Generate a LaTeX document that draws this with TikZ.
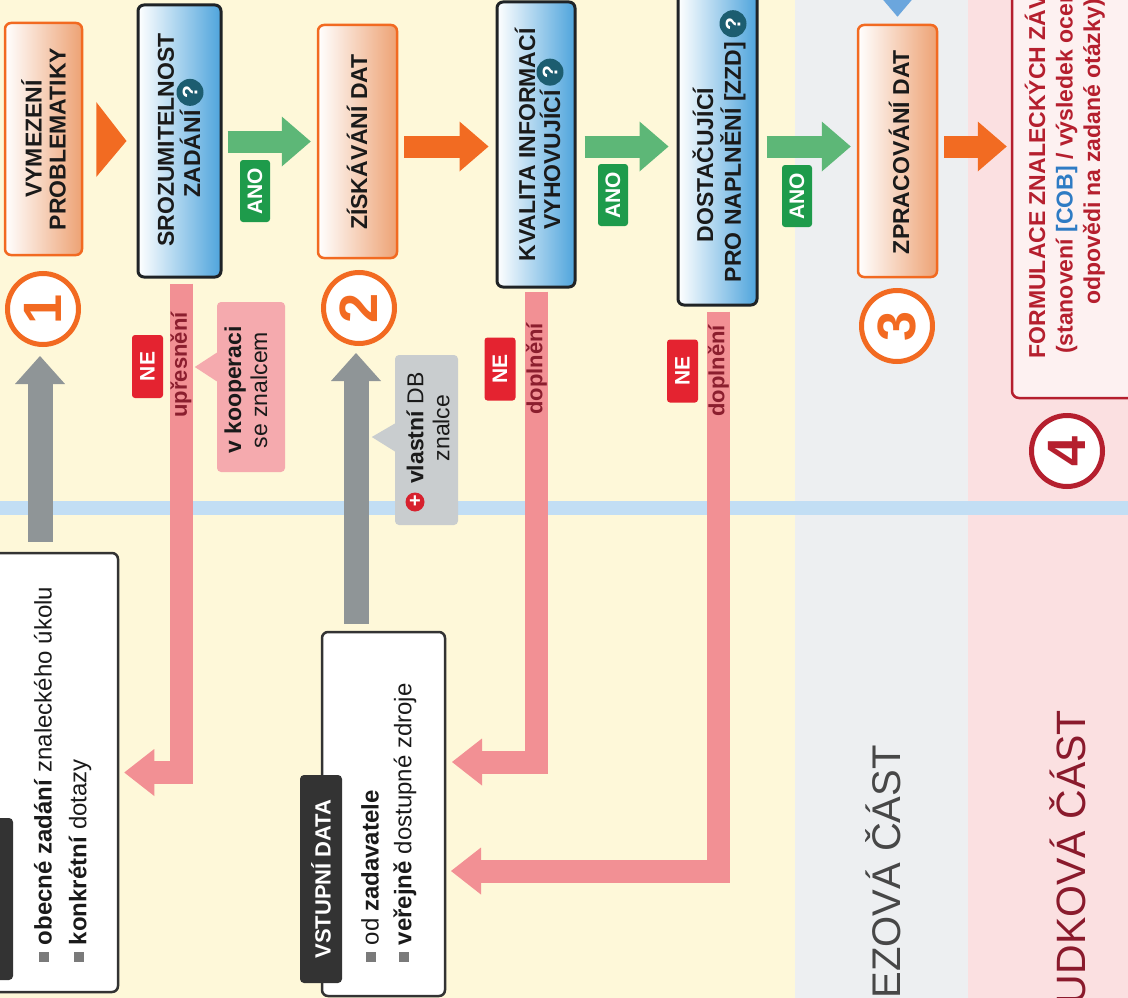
\documentclass[tikz,border=0pt]{standalone}
\usepackage{fontspec}
\setmainfont{Liberation Sans}
\usetikzlibrary{arrows.meta,calc}

\definecolor{cream}{HTML}{FEF8D9}
\definecolor{greyreg}{HTML}{EDEFF1}
\definecolor{pinkreg}{HTML}{FBE0E1}
\definecolor{blueline}{HTML}{C2DEF4}
\definecolor{orB}{HTML}{F26A21}
\definecolor{orF}{HTML}{EDA274}
\definecolor{blF}{HTML}{4EA4DC}
\definecolor{dkB}{HTML}{1F2326}
\definecolor{grayarr}{HTML}{8F9597}
\definecolor{pinkbar}{HTML}{F29094}
\definecolor{callpink}{HTML}{F5AAAE}
\definecolor{callgray}{HTML}{C9CDCF}
\definecolor{dkred}{HTML}{8B1E2E}
\definecolor{neRed}{HTML}{E42330}
\definecolor{anoGreen}{HTML}{1E9B4B}
\definecolor{grArr}{HTML}{5DB777}
\definecolor{orArr}{HTML}{F26B22}
\definecolor{formred}{HTML}{B51F2E}
\definecolor{formfill}{HTML}{FDF1F1}
\definecolor{sectgray}{HTML}{474747}
\definecolor{sectred}{HTML}{8A1A2C}
\definecolor{qteal}{HTML}{1C5D70}
\definecolor{blueT}{HTML}{6BA6DD}
\definecolor{bulgray}{HTML}{7A7A7A}
\definecolor{tagdark}{HTML}{333333}
\definecolor{cobblue}{HTML}{2E7BC4}
\definecolor{plusred}{HTML}{D7212E}
\definecolor{txtblack}{HTML}{1A1A1A}

\newcommand\bul{\textcolor{bulgray}{\rule[0.1em]{0.42em}{0.42em}}}

\tikzset{
  obox/.style={draw=orB, line width=2.5pt, rounded corners=6pt, left color=white, right color=orF, inner sep=0pt},
  bbox/.style={draw=dkB, line width=3pt, rounded corners=6pt, left color=white, right color=blF, inner sep=0pt},
  wbox/.style={draw=tagdark, line width=2.5pt, rounded corners=6pt, fill=white, inner sep=0pt},
  fbox/.style={draw=formred, line width=2.5pt, rounded corners=7pt, fill=formfill, inner sep=0pt},
  dtag/.style={fill=tagdark, rounded corners=4pt, inner sep=0pt},
  btxt/.style={rotate=90, font=\bfseries\fontsize{23}{24}\selectfont, align=center, inner sep=0pt, text=txtblack},
  item/.style={rotate=90, anchor=west, font=\fontsize{24}{24}\selectfont, inner sep=0pt, text=txtblack},
  ctext/.style={rotate=90, font=\fontsize{23}{26}\selectfont, align=center, inner sep=0pt, text=txtblack},
  numc/.style={circle, draw=orB, line width=5pt, fill=white, minimum size=71pt, inner sep=0pt, text=orB, rotate=90, font=\bfseries\fontsize{54}{54}\selectfont},
  qic/.style={circle, fill=qteal, text=white, inner sep=0pt, minimum size=27pt, rotate=90, font=\bfseries\fontsize{21}{21}\selectfont},
  netag/.style={rotate=90, fill=neRed, text=white, rounded corners=3pt, minimum width=63pt, minimum height=31pt, inner sep=0pt, font=\bfseries\fontsize{21}{21}\selectfont},
  anotag/.style={rotate=90, fill=anoGreen, text=white, rounded corners=3pt, minimum width=62pt, minimum height=30pt, inner sep=0pt, font=\bfseries\fontsize{21}{21}\selectfont},
  bartxt/.style={rotate=90, text=dkred, inner sep=0pt, font=\bfseries\fontsize{22}{22}\selectfont},
  callbox/.style={rounded corners=4pt, inner sep=0pt},
  garrow/.style={draw=grArr, line width=22pt, line cap=butt, -{Triangle[length=29pt,width=50pt,line width=0pt]}},
  oarrow/.style={draw=orArr, line width=22pt, line cap=butt, -{Triangle[length=29pt,width=50pt,line width=0pt]}},
  grayarrow/.style={draw=grayarr, line width=25pt, line cap=butt, -{Triangle[length=28pt,width=50pt,line width=0pt]}},
  pinkarrow/.style={draw=pinkbar, line width=23pt, line cap=butt, line join=miter, -{Triangle[length=30pt,width=47pt,line width=0pt]}}
}

\begin{document}
\begin{tikzpicture}[x=1pt,y=-1pt]
\useasboundingbox (0,0) rectangle (1128,998);
\clip (0,0) rectangle (1128,998);
% background bands
\fill[cream] (0,0) rectangle (795,998);
\fill[greyreg] (795,0) rectangle (968,998);
\fill[pinkreg] (968,0) rectangle (1128,998);
\draw[blueline, line width=14pt] (0,508) -- (1128,508);

% section labels
\node[rotate=90, anchor=east, inner sep=0pt, text=sectgray, font=\fontsize{40}{40}\selectfont] (nal) at (883,745) {EZOVÁ ČÁST};
\node[rotate=90, anchor=east, inner sep=0pt, text=sectred, font=\fontsize{41}{41}\selectfont] (pos) at (1068,710) {UDKOVÁ ČÁST};

% white input boxes
\node[wbox, minimum width=128pt, minimum height=439pt] (zad) at (54,772.5) {};
\node[dtag, minimum width=42pt, minimum height=162pt] (zadtag) at (-8,899) {};
\node[item] (z1) at (43,962) {\bul\ \textbf{obecné zadání} znaleckého úkolu};
\node[item] (z2) at (80,962) {\bul\ \textbf{konkrétní} dotazy};

\node[wbox, minimum width=123pt, minimum height=364pt] (vst) at (383.5,814) {};
\node[dtag, rotate=90, minimum width=208pt, minimum height=42pt, text=white, font=\bfseries\fontsize{22}{22}\selectfont] (vsttag) at (321,879) {VSTUPNÍ DATA};
\node[item] (v1) at (370,962) {\bul\ od \textbf{zadavatele}};
\node[item] (v2) at (405,962) {\bul\ \textbf{veřejně} dostupné zdroje};

% process boxes
\node[obox, minimum width=77pt, minimum height=232pt] (vym) at (43.5,139) {};
\node[btxt] (vymt) at (vym) {VYMEZENÍ\\PROBLEMATIKY};

\node[bbox, minimum width=83pt, minimum height=272pt] (sroz) at (179.5,141) {};
\node[btxt] (s1) at (166,140) {SROZUMITELNOST};
\node[btxt] (s2) at (190,154) {ZADÁNÍ};
\node[qic] (q1) at ($(s2.east)+(0,-18)$) {?};

\node[obox, minimum width=79pt, minimum height=233pt] (zisk) at (357.5,141.5) {};
\node[btxt] (ziskt) at (357,142) {ZÍSKÁVÁNÍ DAT};

\node[bbox, minimum width=78pt, minimum height=285pt] (kval) at (536,144.5) {};
\node[btxt] (k1) at (525,145) {KVALITA INFORMACÍ};
\node[btxt] (k2) at (550,160) {VYHOVUJÍCÍ};
\node[qic] (q2) at ($(k2.east)+(0,-18)$) {?};

\node[bbox, minimum width=79pt, minimum height=315pt] (dost) at (717.5,147.5) {};
\node[btxt] (d1) at (703,165) {DOSTAČUJÍCÍ};
\node[btxt] (d2) at (733,162) {PRO NAPLNĚNÍ [ZZD]};
\node[qic] (q3) at ($(d2.east)+(0,-18)$) {?};

\node[obox, minimum width=79pt, minimum height=252pt] (zprac) at (897.5,151) {};
\node[btxt] (zpract) at (899,152) {ZPRACOVÁNÍ DAT};

\node[fbox, minimum width=138pt, minimum height=408pt] (form) at (1081,194) {};
\node[rotate=90, align=center, inner sep=0pt, text=formred, font=\bfseries\fontsize{23}{27.5}\selectfont] (formt) at (1064,152)
  {FORMULACE ZNALECKÝCH ZÁVĚRŮ\\(stanovení \textcolor{cobblue}{[COB]} / výsledek ocenění,\\odpovědi na zadané otázky)};

% step circles
\node[numc] (c1) at (43,309) {1};
\node[numc] (c2) at (359,308) {2};
\node[numc] (c3) at (897,326) {3};
\node[numc, draw=formred, text=formred] (c4) at (1067,451) {4};

% gray input arrows (rotated circles: local west points down in the picture)
\draw[grayarrow] ($(c1.west |- zad.north)+(-3,-10)$) -- ($(c1.west)+(-3,9)$);
\draw[grayarrow] ($(c2.west |- vst.north)+(-3,-7)$) -- ($(c2.west)+(-3,7)$);

% feedback (NE) arrows
\coordinate (t1) at ($(zad.east)+(5,0)$);
\coordinate (t2) at (452,762);
\coordinate (t3) at (451,871);
\draw[pinkarrow] ($(sroz.south)+(1.5,5)$) |- (t1);
\draw[pinkarrow] ($(kval.south)+(0.5,3)$) |- (t2);
\draw[pinkarrow] ($(dost.south)+(1,5)$) |- (t3);
\node[bartxt] (upr) at (181,365) {upřesnění};
\node[bartxt] (dop1) at (536.5,369) {doplnění};
\node[bartxt] (dop2) at (718.5,371) {doplnění};
\node[netag] (ne1) at (147.5,366.5) {NE};
\node[netag] (ne2) at (500,369) {NE};
\node[netag] (ne3) at (682.5,371) {NE};

% callouts
\node[callbox, fill=callpink, minimum width=68pt, minimum height=170pt] (koop) at (251,387) {};
\fill[callpink] ($(koop.west)+(1,-35)$) -- ($(koop.west)+(-22,-20)$) -- ($(koop.west)+(1,-5)$) -- cycle;
\node[ctext] (kooptxt) at (246,390) {\textbf{v kooperaci}\\se znalcem};

\node[callbox, fill=callgray, minimum width=63pt, minimum height=170pt] (vdb) at (426.5,440) {};
\fill[callgray] ($(vdb.west)+(1,-17)$) -- ($(vdb.west)+(-23,-3)$) -- ($(vdb.west)+(1,12)$) -- cycle;
\node[ctext] (vdbtxt) at (428,428) {\textbf{vlastní} DB\\znalce};
\node[circle, fill=plusred, text=white, inner sep=0pt, minimum size=19pt, font=\bfseries\fontsize{20}{20}\selectfont] (plus) at (415,502) {+};

% forward arrows
\coordinate (ya) at (0,141.5);
\coordinate (yb) at (0,146.5);
\fill[orArr] ($(vym.east)+(13,-37)$) -- ($(vym.east)+(13,38)$) -- ($(sroz.west)+(-10,0)$) -- cycle;
\draw[garrow] ($(sroz.east |- ya)+(5,0)$) -- ($(zisk.west |- ya)+(-6,0)$);
\draw[oarrow] ($(zisk.east |- yb)+(6,0)$) -- ($(kval.west |- yb)+(-7,0)$);
\draw[garrow] ($(kval.east |- yb)+(8,0)$) -- ($(dost.west |- yb)+(-8,0)$);
\draw[garrow] ($(dost.east |- yb)+(8,0)$) -- ($(zprac.west |- yb)+(-6,0)$);
\draw[oarrow] ($(zprac.east |- yb)+(6,0)$) -- ($(form.west |- yb)+(-4,0)$);
\fill[blueT] ($(zprac.north)+(-17,-27)$) -- ($(zprac.north)+(17,-27)$) -- ($(zprac.north)+(0,-7)$) -- cycle;

% yes tags
\node[anotag] (ano1) at (255,191) {ANO};
\node[anotag] (ano2) at (613,195) {ANO};
\node[anotag] (ano3) at (797,196) {ANO};
\end{tikzpicture}
\end{document}
